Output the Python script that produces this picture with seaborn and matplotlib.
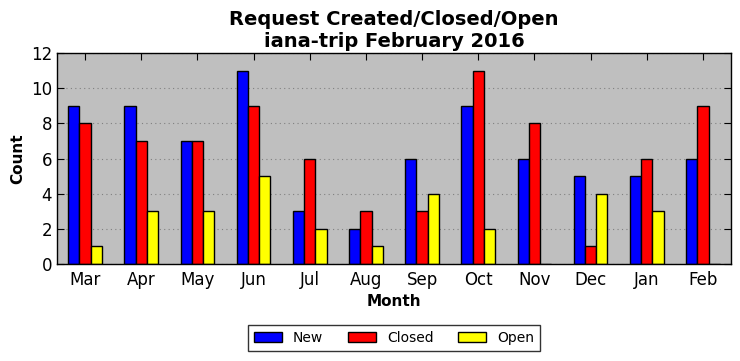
import matplotlib
matplotlib.use("Agg")
import matplotlib.pyplot as plt
import seaborn as sns
import pandas as pd

months = ["Mar", "Apr", "May", "Jun", "Jul", "Aug", "Sep", "Oct", "Nov", "Dec", "Jan", "Feb"]
new = [9, 9, 7, 11, 3, 2, 6, 9, 6, 5, 5, 6]
closed = [8, 7, 7, 9, 6, 3, 3, 11, 8, 1, 6, 9]
open_ = [1, 3, 3, 5, 2, 1, 4, 2, 0, 4, 3, 0]
series = ["New", "Closed", "Open"]
colors = ["#0000ff", "#ff0000", "#ffff00"]

df = pd.DataFrame({"Month": months, "New": new, "Closed": closed, "Open": open_})
long = df.melt(id_vars="Month", value_vars=series, var_name="Type", value_name="Count")

sns.set_style("ticks")
plt.rcParams['font.family'] = ['DejaVu Sans']
plt.rcParams['text.color'] = 'black'
plt.rcParams['axes.labelcolor'] = 'black'
plt.rcParams['xtick.color'] = 'black'
plt.rcParams['ytick.color'] = 'black'

fig = plt.figure(figsize=(7.4, 3.61), dpi=100)
ax = fig.add_axes([57/740, 1 - 264/361, (731-57)/740, (264-53)/361])
ax.set_facecolor("#bfbfbf")

sns.barplot(data=long, x="Month", y="Count", hue="Type", hue_order=series,
            order=months, palette=colors, width=0.6, gap=0, saturation=1,
            edgecolor="black", linewidth=1, ax=ax, legend=True, errorbar=None)

ax.set_xlim(-0.5, 11.5)
ax.set_ylim(0, 12)
ax.set_yticks(range(0, 13, 2))
ax.yaxis.grid(True, linestyle=(0, (1, 3)), color="#808080", linewidth=0.8)
ax.xaxis.grid(False)
ax.set_axisbelow(True)
for s in ax.spines.values():
    s.set_visible(True)
    s.set_color("black")
    s.set_linewidth(1)
ax.tick_params(direction="in", top=True, right=True, length=5, width=0.8,
               labelsize=12, colors="black")
ax.tick_params(axis="x", pad=5)
ax.set_xlabel("Month", fontsize=11, fontweight="bold", color="black")
ax.set_ylabel("Count", fontsize=11, fontweight="bold", color="black")
ax.set_title("Request Created/Closed/Open\niana-trip February 2016",
             fontsize=14, fontweight="bold", linespacing=1.2, color="black", pad=4)

h, l = ax.get_legend_handles_labels()
ax.legend_.remove()
leg = fig.legend(h, l, loc="center", bbox_to_anchor=(394/740, 1 - 338/361), ncol=3,
                 frameon=True, fancybox=False, edgecolor="black", fontsize=10,
                 handlelength=2, columnspacing=1.8, borderpad=0.4, labelcolor="black")
leg.get_frame().set_linewidth(1)

fig.savefig("out.png", dpi=100)
